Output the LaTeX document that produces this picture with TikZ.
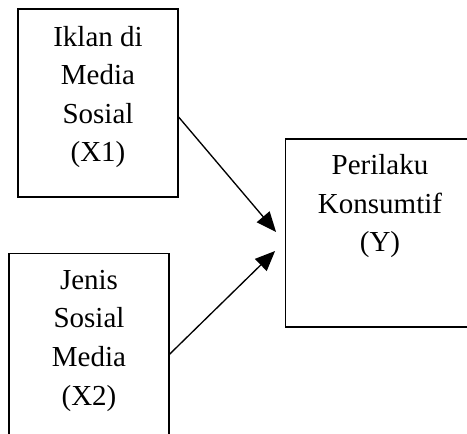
\documentclass[tikz,border=0pt]{standalone}
\usepackage{fontspec}
\setmainfont{Liberation Serif}
\usepackage{tikz}
\usetikzlibrary{arrows.meta, positioning, calc}

\begin{document}
\begin{tikzpicture}[
    x=0.75pt, y=-0.75pt,
    box/.style={rectangle, draw, line width=0.9pt, inner sep=0pt, minimum width=120pt, minimum height=141pt},
    boxtext/.style={align=center, inner sep=0pt, font=\fontsize{21.75}{28.9}\selectfont},
    arrow/.style={-{Triangle[length=15pt, width=12.5pt]}, line width=1pt}
]
    \useasboundingbox (0,0) rectangle (467,434);
    \fill[white] (0,0) rectangle (467,434);
    \clip (0,0) rectangle (467,434);

    \node[box] (x1) at (98,103) {};
    \node[box, below=41.25pt of x1, xshift=-6.75pt] (x2) {};
    \node[box, minimum width=146pt] (y) at (383,233) {};

    \node[boxtext, below=13pt of x1.north] (x1text) {Iklan di\\Media\\Sosial\\(X1)};
    \node[boxtext, below=13pt of x2.north] (x2text) {Jenis\\Sosial\\Media\\(X2)};
    \node[boxtext, below=12pt of y.north, xshift=-2.25pt] (ytext) {Perilaku\\Konsumtif\\(Y)};

    \draw[arrow] ($(x1.east)+(0,14)$) -- ($(y.west)+(-9,-1)$);
    \draw[arrow] ($(x2.east)+(0,7)$) -- ($(y.west)+(-10,18)$);
\end{tikzpicture}
\end{document}
